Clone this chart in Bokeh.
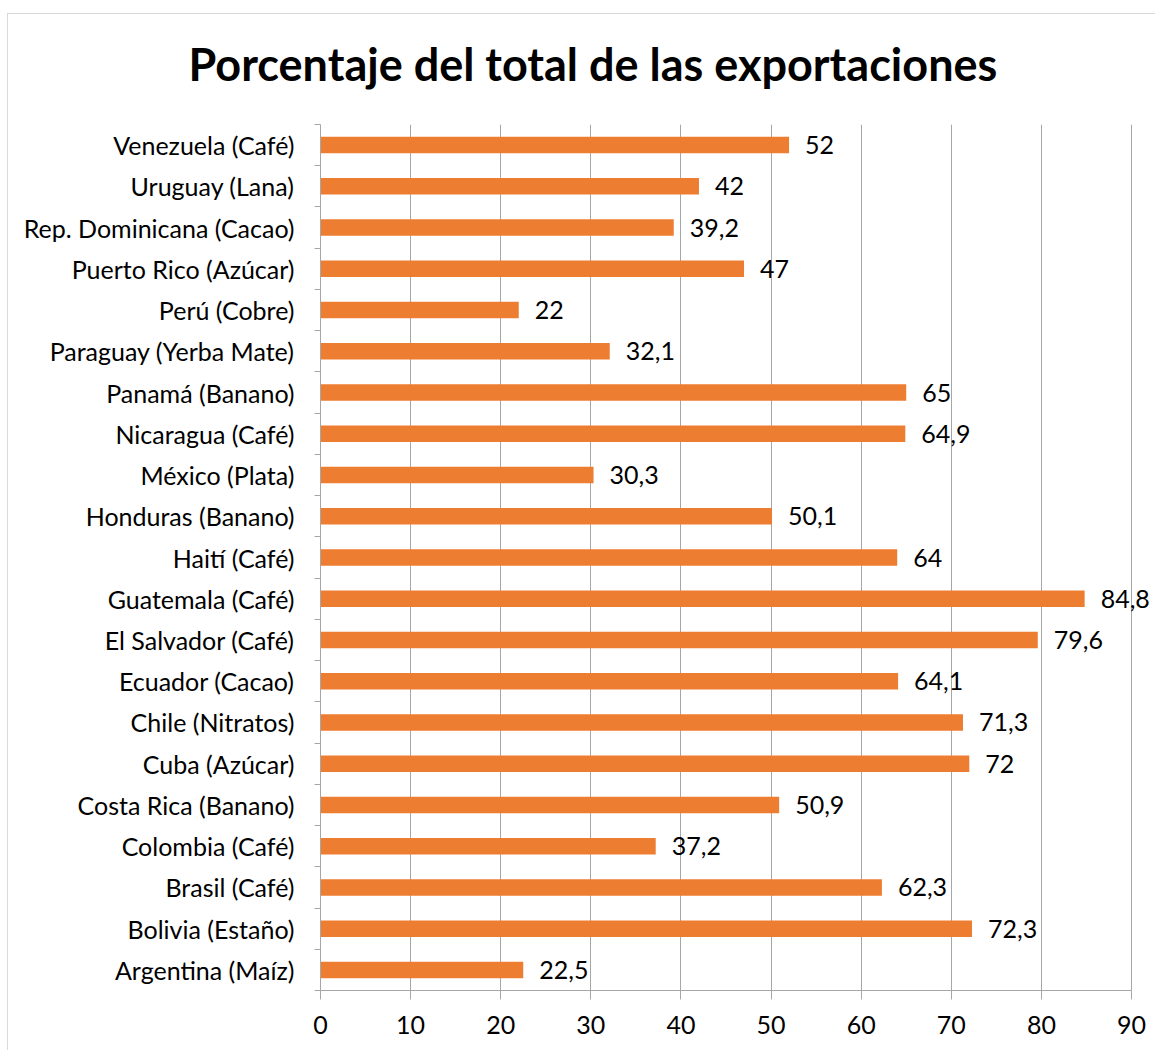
from bokeh.plotting import figure
from bokeh.models import ColumnDataSource, Range1d, FixedTicker, Title
from bokeh.core.properties import value
from bokeh.embed import file_html
from bokeh.resources import INLINE

# Data (bottom to top)
categories = [
    "Argentina (Maíz)", "Bolivia (Estaño)", "Brasil (Café)", "Colombia (Café)",
    "Costa Rica (Banano)", "Cuba (Azúcar)", "Chile (Nitratos)", "Ecuador (Cacao)",
    "El Salvador (Café)", "Guatemala (Café)", "Haití (Café)", "Honduras (Banano)",
    "México (Plata)", "Nicaragua (Café)", "Panamá (Banano)", "Paraguay (Yerba Mate)",
    "Perú (Cobre)", "Puerto Rico (Azúcar)", "Rep. Dominicana (Cacao)",
    "Uruguay (Lana)", "Venezuela (Café)",
]
values = [22.5, 72.3, 62.3, 37.2, 50.9, 72, 71.3, 64.1, 79.6, 84.8, 64,
          50.1, 30.3, 64.9, 65, 32.1, 22, 47, 39.2, 42, 52]
x_ticks = [0, 10, 20, 30, 40, 50, 60, 70, 80, 90]

FONT = "Lato"
FS = "25px"
pos = list(range(len(categories)))
labels = [("%g" % v).replace(".", ",") for v in values]
src = ColumnDataSource(dict(y=pos, v=values, lab=labels))

# layout: axis spans 811 px for 0..90, frame extends a bit further right
W, LEFT = 1148, 313
AXIS_PX = 811
frame_px = W - LEFT
x_end = 90 * frame_px / AXIS_PX

p = figure(width=W, height=1050, output_backend="svg", toolbar_location=None,
           x_range=Range1d(0, x_end), y_range=Range1d(-0.5, len(categories) - 0.5),
           min_border_left=LEFT, min_border_right=0, min_border_top=124,
           min_border_bottom=60)
p.styles = {"margin-left": "7px",
            "background": "linear-gradient(#d9d9d9, #d9d9d9) 0 13px / 100% 1px no-repeat, "
                          "linear-gradient(#d9d9d9, #d9d9d9) 0 13px / 1px 100% no-repeat, #ffffff"}
p.border_fill_color = None
p.outline_line_color = None

p.title = Title(text="Porcentaje del total de las exportaciones", align="left",
                text_font=FONT, text_font_size="45px", text_font_style="bold",
                text_color="#000000", offset=-132, standoff=68)

p.hbar(y="y", right="v", left=0, height=0.4, source=src,
       fill_color="#ED7D31", line_color=None)
p.text(x="v", y="y", text="lab", source=src, x_offset=16,
       text_font=value(FONT), text_font_size=FS, text_baseline="middle",
       text_color="#000000")

p.xaxis.ticker = FixedTicker(ticks=x_ticks)
p.xaxis.bounds = (0, 90)
p.xaxis.axis_line_color = "#a6a6a6"
p.xaxis.major_tick_line_color = "#a6a6a6"
p.xaxis.major_tick_out = 9
p.xaxis.major_tick_in = 0
p.xaxis.minor_tick_line_color = None
p.xaxis.major_label_text_font = FONT
p.xaxis.major_label_text_font_size = FS
p.xaxis.major_label_text_color = "#000000"
p.xaxis.major_label_standoff = 16

p.yaxis.ticker = FixedTicker(ticks=pos, minor_ticks=[i - 0.5 for i in range(len(categories) + 1)])
p.yaxis.major_label_overrides = {i: c for i, c in enumerate(categories)}
p.yaxis.axis_line_color = "#a6a6a6"
p.yaxis.major_tick_line_color = None
p.yaxis.major_tick_out = 0
p.yaxis.major_tick_in = 0
p.yaxis.minor_tick_line_color = "#a6a6a6"
p.yaxis.minor_tick_out = 6
p.yaxis.minor_tick_in = 0
p.yaxis.major_label_text_font = FONT
p.yaxis.major_label_text_font_size = FS
p.yaxis.major_label_text_color = "#000000"
p.yaxis.major_label_standoff = 20

p.xgrid.ticker = FixedTicker(ticks=x_ticks)
p.xgrid.grid_line_color = "#a6a6a6"
p.ygrid.grid_line_color = None

open("out.html", "w").write(file_html(p, INLINE))
